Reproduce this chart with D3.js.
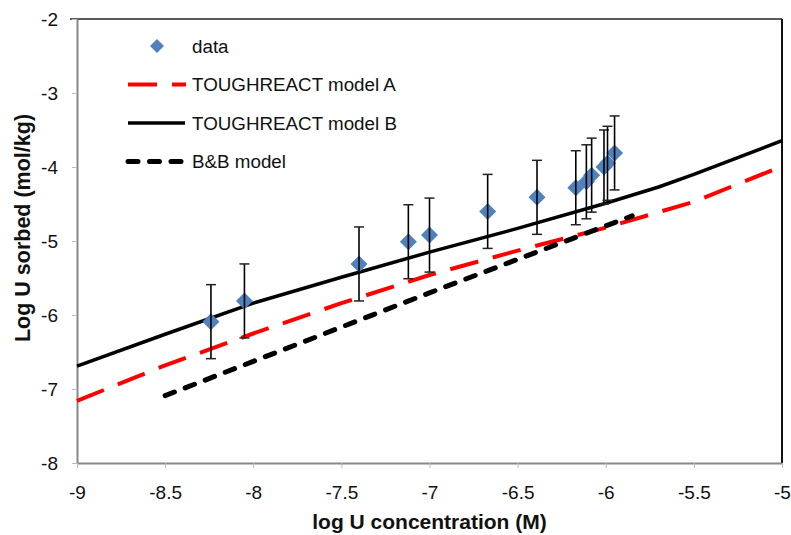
<!DOCTYPE html>
<html>
<head>
<meta charset="utf-8">
<script src="https://cdn.jsdelivr.net/npm/d3@7"></script>
<style>
  html, body { margin: 0; padding: 0; background: #fff; }
  svg { display: block; font-family: "Liberation Sans", Arial, sans-serif; }
</style>
</head>
<body>
<svg id="chart" width="791" height="535"></svg>
<script>
// Measured uranium sorption (log U sorbed vs log U concentration)
const dataX = [-8.24, -8.05, -7.40, -7.12, -7.00, -6.67, -6.39, -6.17, -6.11, -6.08, -6.01, -5.99, -5.95];
const dataY = [-6.09, -5.81, -5.31, -5.01, -4.92, -4.60, -4.41, -4.28, -4.20, -4.11, -4.00, -3.95, -3.81];
const dataErr = [0.5, 0.5, 0.5, 0.5, 0.5, 0.5, 0.5, 0.5, 0.5, 0.5, 0.5, 0.5, 0.5];

// Model curves
const modelAX = [-9, -8.5, -8, -7.5, -7, -6.5, -6, -5.5, -5];
const modelAY = [-7.16, -6.68, -6.25, -5.84, -5.46, -5.13, -4.82, -4.47, -3.99];
const modelBX = [-9, -8.5, -8, -7.5, -7, -6.5, -6, -5.7, -5.5, -5];
const modelBY = [-6.69, -6.26, -5.84, -5.49, -5.15, -4.83, -4.49, -4.27, -4.10, -3.645];
const bbX = [-8.5, -7, -5.85];
const bbY = [-7.09, -5.70, -4.66];

// Axes
const xTicks = [-9, -8.5, -8, -7.5, -7, -6.5, -6, -5.5, -5];
const xTickLabels = ["-9", "-8.5", "-8", "-7.5", "-7", "-6.5", "-6", "-5.5", "-5"];
const yTicks = [-8, -7, -6, -5, -4, -3, -2];
const yTickLabels = ["-8", "-7", "-6", "-5", "-4", "-3", "-2"];

const legendNames = ["data", "TOUGHREACT model A", "TOUGHREACT model B", "B&B model"];

const svg = d3.select("#chart");
const plotLeft = 77, plotRight = 782, plotTop = 19, plotBottom = 463;

const x = d3.scaleLinear().domain([-9, -5]).range([plotLeft, plotRight]);
const y = d3.scaleLinear().domain([-8, -2]).range([plotBottom, plotTop]);

// frame: top and right borders dark
svg.append("line").attr("x1", 70).attr("x2", plotRight).attr("y1", plotTop).attr("y2", plotTop)
  .attr("stroke", "#222").attr("stroke-width", 1.5);
svg.append("line").attr("x1", plotRight).attr("x2", plotRight).attr("y1", plotTop).attr("y2", plotBottom)
  .attr("stroke", "#111").attr("stroke-width", 2);

// y axis
const yAxis = d3.axisLeft(y).tickValues(yTicks)
  .tickFormat((d, i) => yTickLabels[i]).tickSize(5).tickSizeOuter(0).tickPadding(14);
const gy = svg.append("g").attr("transform", `translate(${plotLeft},0)`).call(yAxis);
gy.select(".domain").attr("stroke", "#888").attr("stroke-width", 2);
gy.selectAll(".tick line").attr("stroke", "#bbb");
gy.selectAll(".tick text").attr("font-size", 19).attr("fill", "#111")
  .attr("font-family", "Liberation Sans, Arial, sans-serif");

// x axis
const xAxis = d3.axisBottom(x).tickValues(xTicks)
  .tickFormat((d, i) => xTickLabels[i]).tickSize(5).tickSizeOuter(0).tickPadding(18);
const gx = svg.append("g").attr("transform", `translate(0,${plotBottom})`).call(xAxis);
gx.select(".domain").attr("stroke", "#888").attr("stroke-width", 2);
gx.selectAll(".tick line").attr("stroke", "#bbb");
gx.selectAll(".tick text").attr("font-size", 19).attr("fill", "#111")
  .attr("font-family", "Liberation Sans, Arial, sans-serif");

// axis titles
svg.append("text").attr("x", (plotLeft + plotRight) / 2).attr("y", 529)
  .attr("text-anchor", "middle").attr("font-weight", "bold").attr("font-size", 21)
  .attr("fill", "#111").text("log U concentration (M)");
svg.append("text").attr("transform", "translate(30,228) rotate(-90)")
  .attr("text-anchor", "middle").attr("font-weight", "bold").attr("font-size", 21.5)
  .attr("fill", "#111").text("Log U sorbed (mol/kg)");

const line = d3.line().x(d => x(d[0])).y(d => y(d[1]));
const zip = (a, b) => a.map((v, i) => [v, b[i]]);

const plot = svg.append("g");

// model B (solid black)
plot.append("path").datum(zip(modelBX, modelBY)).attr("d", line)
  .attr("fill", "none").attr("stroke", "#000").attr("stroke-width", 3.5)
  .attr("stroke-linejoin", "round");
// model A (long red dash)
plot.append("path").datum(zip(modelAX, modelAY)).attr("d", line)
  .attr("fill", "none").attr("stroke", "#ff0000").attr("stroke-width", 4)
  .attr("stroke-dasharray", "29,15");
// B&B model (short black dash)
plot.append("path").datum(zip(bbX, bbY)).attr("d", line)
  .attr("fill", "none").attr("stroke", "#000").attr("stroke-width", 5)
  .attr("stroke-linecap", "round").attr("stroke-dasharray", "10,11.5");

// data diamonds
const diamond = (cx, cy, r) => `M${cx},${cy - r}L${cx + r},${cy}L${cx},${cy + r}L${cx - r},${cy}Z`;
const pts = dataX.map((v, i) => ({ x: v, y: dataY[i], e: dataErr[i] }));
plot.selectAll("path.pt").data(pts).join("path").attr("class", "pt")
  .attr("d", d => diamond(x(d.x), y(d.y), 8.5)).attr("fill", "#4f81bd");

// error bars
const eb = plot.selectAll("g.eb").data(pts).join("g").attr("class", "eb");
eb.append("line").attr("x1", d => x(d.x)).attr("x2", d => x(d.x))
  .attr("y1", d => y(d.y + d.e)).attr("y2", d => y(d.y - d.e))
  .attr("stroke", "#000").attr("stroke-width", 1.6);
eb.append("line").attr("x1", d => x(d.x) - 5).attr("x2", d => x(d.x) + 5)
  .attr("y1", d => y(d.y + d.e)).attr("y2", d => y(d.y + d.e))
  .attr("stroke", "#222").attr("stroke-width", 1.5);
eb.append("line").attr("x1", d => x(d.x) - 5).attr("x2", d => x(d.x) + 5)
  .attr("y1", d => y(d.y - d.e)).attr("y2", d => y(d.y - d.e))
  .attr("stroke", "#222").attr("stroke-width", 1.5);

// legend
const lg = svg.append("g");
const rowY = [46, 84.5, 123, 161.5];
lg.append("path").attr("d", diamond(157, rowY[0], 7)).attr("fill", "#4f81bd");
lg.append("line").attr("x1", 128).attr("x2", 186).attr("y1", rowY[1]).attr("y2", rowY[1])
  .attr("stroke", "#ff0000").attr("stroke-width", 4).attr("stroke-dasharray", "29,15");
lg.append("line").attr("x1", 128).attr("x2", 185).attr("y1", rowY[2]).attr("y2", rowY[2])
  .attr("stroke", "#000").attr("stroke-width", 3.5);
lg.append("line").attr("x1", 128).attr("x2", 181).attr("y1", rowY[3]).attr("y2", rowY[3])
  .attr("stroke", "#000").attr("stroke-width", 5).attr("stroke-linecap", "round")
  .attr("stroke-dasharray", "10,11.5");
lg.selectAll("text").data(legendNames).join("text")
  .attr("x", 192).attr("y", (d, i) => rowY[i]).attr("dy", "0.36em")
  .attr("font-size", 18.8).attr("fill", "#111").text(d => d);
</script>
</body>
</html>
